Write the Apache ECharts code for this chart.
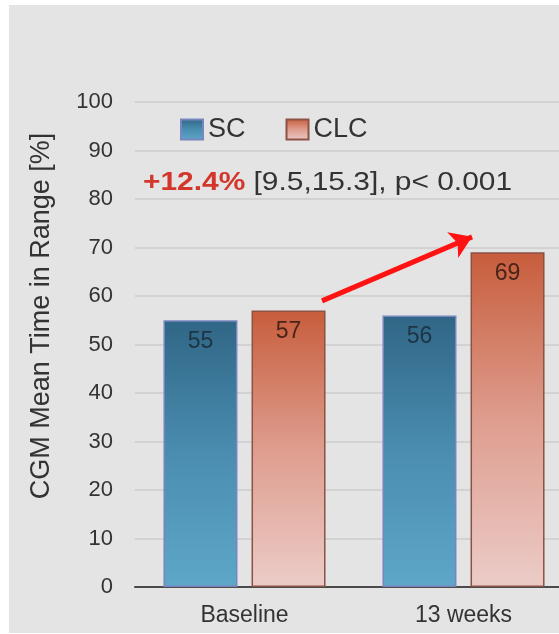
<!DOCTYPE html>
<html>
<head>
<meta charset="utf-8">
<script src="https://cdn.jsdelivr.net/npm/echarts@6/dist/echarts.min.js"></script>
<style>
  html, body { margin: 0; padding: 0; background: #ffffff; }
  #wrap { position: relative; width: 559px; height: 634px; overflow: hidden; }
  #panel { position: absolute; left: 9px; top: 5px; right: 0; bottom: 1px; background: #e4e4e4; }
  /* the plot runs past the right edge of the page, cutting the last bar's band */
  #chart { position: absolute; left: 0; top: 0; width: 573px; height: 634px; }
</style>
</head>
<body>
<div id="wrap">
  <div id="panel"></div>
  <div id="chart"></div>
</div>
<script>
// Time in range by visit, standard care vs closed-loop control
const categories = ['Baseline', '13 weeks'];
const scValues = [55, 56];
const clcValues = [57, 69];
const yTicks = [0, 10, 20, 30, 40, 50, 60, 70, 80, 90, 100];
const seriesNames = ['SC', 'CLC'];
const yAxisTitle = 'CGM Mean Time in Range [%]';
const effectText = '+12.4%';
const effectDetail = ' [9.5,15.3], p< 0.001';
// arrow endpoints: [position across the category band (0..2), percent]
const arrowFrom = [0.854, 59.0];
const arrowTo = [1.539, 72.2];

const FONT = 'Liberation Sans, Arial, sans-serif';

const scFill = new echarts.graphic.LinearGradient(0, 0, 0, 1, [
  { offset: 0, color: '#306686' },
  { offset: 0.5, color: '#4a8db0' },
  { offset: 1, color: '#5ea7c9' }
]);
const clcFill = new echarts.graphic.LinearGradient(0, 0, 0, 1, [
  { offset: 0, color: '#c75d3c' },
  { offset: 0.5, color: '#de9d8e' },
  { offset: 1, color: '#ecccc8' }
]);

const chart = echarts.init(document.getElementById('chart'), null, { renderer: 'canvas' });

chart.setOption({
  backgroundColor: 'transparent',
  animation: false,
  textStyle: { fontFamily: FONT },
  legend: {
    data: seriesNames,
    left: 175,
    top: 111,
    itemWidth: 22,
    itemHeight: 20,
    itemGap: 40,
    textStyle: { fontSize: 27, color: '#333333', fontFamily: FONT },
    icon: 'rect'
  },
  grid: { left: 135, right: 0, top: 102, bottom: 47 },
  xAxis: [
    {
      type: 'category',
      data: categories,
      axisTick: { show: false },
      axisLine: { lineStyle: { color: '#4a4a4a', width: 2 } },
      axisLabel: { fontSize: 23, color: '#333333', margin: 17, fontFamily: FONT }
    },
    {
      type: 'value',
      min: 0,
      max: 2,
      show: false
    }
  ],
  yAxis: {
    type: 'value',
    min: yTicks[0],
    max: yTicks[yTicks.length - 1],
    interval: 10,
    axisLine: { show: false },
    axisTick: { show: false },
    axisLabel: { fontSize: 22, color: '#333333', margin: 22, fontFamily: FONT },
    splitLine: { lineStyle: { color: '#cdcdcd', width: 1.5 } }
  },
  series: [
    {
      name: seriesNames[0],
      type: 'bar',
      data: scValues,
      barGap: '19%',
      barCategoryGap: '26%',
      itemStyle: { color: scFill, borderColor: '#7886bf', borderWidth: 1.5 },
      label: {
        show: true,
        position: 'insideTop',
        distance: 10,
        fontSize: 23,
        color: '#1e3444',
        fontFamily: FONT
      }
    },
    {
      name: seriesNames[1],
      type: 'bar',
      data: clcValues,
      itemStyle: { color: clcFill, borderColor: '#8b5245', borderWidth: 1.5 },
      label: {
        show: true,
        position: 'insideTop',
        distance: 10,
        fontSize: 23,
        color: '#4a2418',
        fontFamily: FONT
      }
    },
    {
      type: 'lines',
      coordinateSystem: 'cartesian2d',
      xAxisIndex: 1,
      yAxisIndex: 0,
      symbol: ['none', 'arrow'],
      symbolSize: [19, 21],
      z: 5,
      lineStyle: { color: '#ff1212', width: 5, opacity: 1, curveness: 0 },
      data: [{ coords: [arrowFrom, arrowTo] }]
    }
  ],
  graphic: [
    {
      type: 'text',
      x: 143,
      y: 183,
      scaleX: 1.15,
      style: {
        text: '{hi|' + effectText + '}{txt|' + effectDetail + '}',
        verticalAlign: 'middle',
        rich: {
          hi: { fontSize: 26, fontWeight: 'bold', fill: '#d3372c', fontFamily: FONT },
          txt: { fontSize: 26, fill: '#333333', fontFamily: FONT }
        }
      }
    },
    {
      type: 'text',
      x: 42,
      y: 316,
      rotation: Math.PI / 2,
      style: {
        text: yAxisTitle,
        fontSize: 27,
        fill: '#333333',
        fontFamily: FONT,
        align: 'center',
        verticalAlign: 'middle'
      }
    }
  ]
});
</script>
</body>
</html>
